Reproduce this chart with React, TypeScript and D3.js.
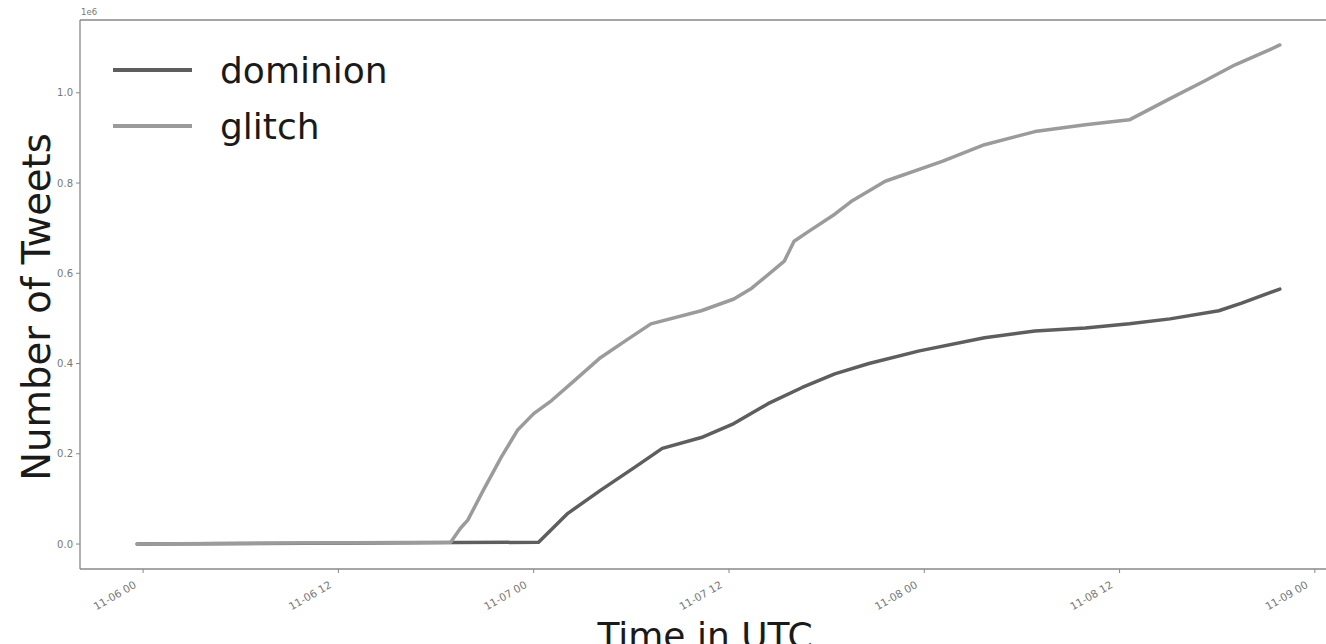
import React from "react";
import * as d3 from "d3";

// ---- data (UTC timestamps, tweet counts) ----
const dominionTimes = [
  "2020-11-05T23:38", "2020-11-07T00:18", "2020-11-07T02:06", "2020-11-07T04:06",
  "2020-11-07T06:12", "2020-11-07T07:54", "2020-11-07T10:18", "2020-11-07T12:18",
  "2020-11-07T14:24", "2020-11-07T16:30", "2020-11-07T18:30", "2020-11-07T20:36",
  "2020-11-07T23:42", "2020-11-08T03:42", "2020-11-08T06:48", "2020-11-08T09:54",
  "2020-11-08T12:36", "2020-11-08T15:06", "2020-11-08T18:06", "2020-11-08T19:30",
  "2020-11-08T21:51",
];
const dominionValues = [
  0, 4000, 68000, 119000,
  170000, 212000, 236000, 267000,
  311000, 347000, 377000, 400000,
  428000, 457000, 472000, 479000,
  488000, 499000, 517000, 534000,
  565000,
];

const glitchTimes = [
  "2020-11-05T23:38", "2020-11-06T18:54", "2020-11-06T19:30", "2020-11-06T19:57",
  "2020-11-06T20:54", "2020-11-06T22:00", "2020-11-06T23:00", "2020-11-07T00:00",
  "2020-11-07T01:06", "2020-11-07T02:30", "2020-11-07T04:06", "2020-11-07T05:42",
  "2020-11-07T07:12", "2020-11-07T10:18", "2020-11-07T12:18", "2020-11-07T13:24",
  "2020-11-07T15:24", "2020-11-07T16:00", "2020-11-07T16:54", "2020-11-07T18:30",
  "2020-11-07T19:30", "2020-11-07T21:36", "2020-11-08T01:06", "2020-11-08T03:42",
  "2020-11-08T06:48", "2020-11-08T09:54", "2020-11-08T12:36", "2020-11-08T15:06",
  "2020-11-08T17:06", "2020-11-08T19:06", "2020-11-08T21:12", "2020-11-08T21:51",
];
const glitchValues = [
  0, 4000, 35000, 53000,
  119000, 192000, 252000, 289000,
  318000, 362000, 413000, 452000,
  488000, 517000, 543000, 567000,
  627000, 671000, 693000, 731000,
  759000, 804000, 848000, 885000,
  914000, 929000, 940000, 987000,
  1024000, 1062000, 1095000, 1106000,
];

const seriesNames = ["dominion", "glitch"];
const seriesColors = ["#5e5e5e", "#9b9b9b"];
const xTickTimes = [
  "2020-11-06T00:00", "2020-11-06T12:00", "2020-11-07T00:00", "2020-11-07T12:00",
  "2020-11-08T00:00", "2020-11-08T12:00", "2020-11-09T00:00",
];
const yTickValues = [0, 200000, 400000, 600000, 800000, 1000000];

const W = 1326;
const H = 644;
const left = 80;
const bottom = 569;
const top = 20;
const plotW = 1257; // right spine falls just outside the visible page

export default function App() {
  const parse = d3.utcParse("%Y-%m-%dT%H:%M");
  const series = [
    { name: seriesNames[0], color: seriesColors[0], pts: dominionTimes.map((t, i) => ({ t: parse(t)!, v: dominionValues[i] })) },
    { name: seriesNames[1], color: seriesColors[1], pts: glitchTimes.map((t, i) => ({ t: parse(t)!, v: glitchValues[i] })) },
  ];
  const allPts = series.flatMap((s) => s.pts);
  const [t0, t1] = d3.extent(allPts, (p) => +p.t) as [number, number];
  const vMax = d3.max(allPts, (p) => p.v)!;
  const vMin = 0;
  const tPad = (t1 - t0) * 0.05;
  const vPad = (vMax - vMin) * 0.05;

  const x = d3.scaleUtc().domain([new Date(t0 - tPad), new Date(t1 + tPad)]).range([left, left + plotW]);
  const y = d3.scaleLinear().domain([vMin - vPad, vMax + vPad]).range([bottom, top]);

  const line = d3.line<{ t: Date; v: number }>().x((p) => x(p.t)).y((p) => y(p.v));
  const fmtX = d3.utcFormat("%m-%d %H");
  const fmtY = d3.format(".1f");
  const font = "'DejaVu Sans', sans-serif";

  return (
    <svg width={W} height={H} style={{ position: "absolute", left: 0, top: 0, background: "#fff" }} fontFamily={font}>
      <rect x={0} y={0} width={W} height={H} fill="#fff" />
      {/* spines */}
      <line x1={left} x2={left + plotW} y1={top} y2={top} stroke="#888" strokeWidth={1.3} />
      <line x1={left} x2={left + plotW} y1={bottom} y2={bottom} stroke="#888" strokeWidth={1.3} />
      <line x1={left} x2={left} y1={top} y2={bottom} stroke="#888" strokeWidth={1.3} />
      <line x1={left + plotW} x2={left + plotW} y1={top} y2={bottom} stroke="#888" strokeWidth={1.3} />

      {/* y ticks */}
      {yTickValues.map((v) => (
        <g key={v}>
          <line x1={left - 4} x2={left} y1={y(v)} y2={y(v)} stroke="#888" strokeWidth={1} />
          <text x={left - 7} y={y(v)} dy="0.35em" textAnchor="end" fontSize={10} fill="#777">
            {fmtY(v / 1e6)}
          </text>
        </g>
      ))}
      <text x={left + 1} y={15} fontSize={8.5} fill="#777">1e6</text>

      {/* x ticks */}
      {xTickTimes.map((s) => {
        const d = parse(s)!;
        const xx = x(d);
        return (
          <g key={s}>
            <line x1={xx} x2={xx} y1={bottom} y2={bottom + 4} stroke="#888" strokeWidth={1} />
            <text
              transform={`translate(${xx - 6},${bottom + 18}) rotate(-30)`}
              textAnchor="end"
              fontSize={10.5}
              fill="#777"
            >
              {fmtX(d)}
            </text>
          </g>
        );
      })}

      {/* lines */}
      {series.map((s) => (
        <path key={s.name} d={line(s.pts)!} fill="none" stroke={s.color} strokeWidth={3.5} strokeLinejoin="round" strokeLinecap="round" />
      ))}

      {/* legend */}
      {series.map((s, i) => (
        <g key={s.name} transform={`translate(0,${70 + i * 56})`}>
          <line x1={113} x2={192} y1={0} y2={0} stroke={s.color} strokeWidth={4} />
          <text x={220} y={0} dy="0.36em" fontSize={36} fill="#1a1a1a">{s.name}</text>
        </g>
      ))}

      {/* axis labels */}
      <text x={705} y={648} textAnchor="middle" fontSize={36} fill="#1a1a1a">Time in UTC</text>
      <text transform={`translate(50,307) rotate(-90)`} textAnchor="middle" fontSize={38.5} fill="#1a1a1a">
        Number of Tweets
      </text>
    </svg>
  );
}
